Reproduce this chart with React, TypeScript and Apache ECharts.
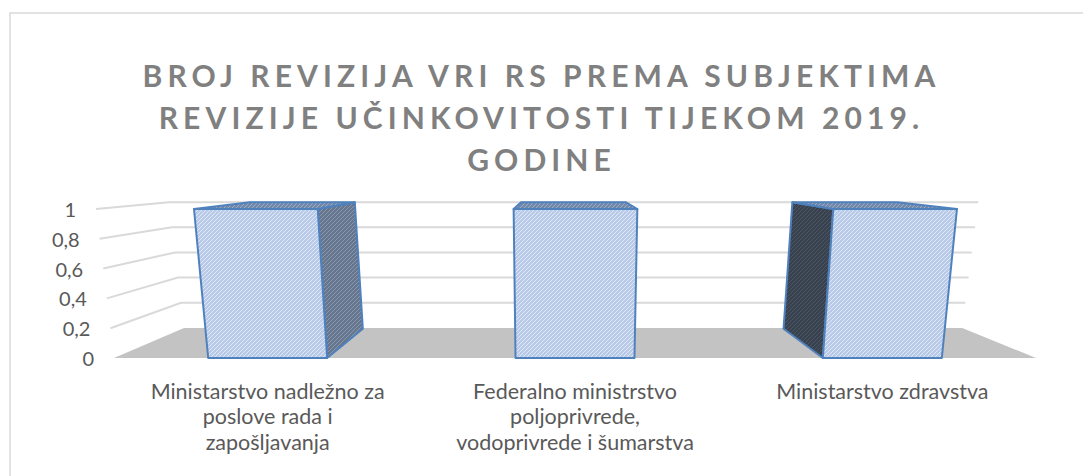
import React, { useEffect, useRef } from "react";
import * as echarts from "echarts";

// ---------- data ----------
const categories = [
  "Ministarstvo nadležno za\nposlove rada i\nzapošljavanja",
  "Federalno ministrstvo\npoljoprivrede,\nvodoprivrede i šumarstva",
  "Ministarstvo zdravstva",
];
const revisionCounts = [1, 1, 1];
const yTicks = [0, 0.2, 0.4, 0.6, 0.8, 1];
const yTickLabels = ["0", "0,2", "0,4", "0,6", "0,8", "1"];
const titleLines = [
  "BROJ REVIZIJA VRI RS PREMA SUBJEKTIMA",
  "REVIZIJE UČINKOVITOSTI TIJEKOM 2019.",
  "GODINE",
];

// ---------- perspective settings (style) ----------
const VX = 563; // vanishing point x
const VY = 165; // vanishing point y
const DEPTH_K = 0.844; // scale of the back plane
const TILT = 0.04; // widening of the top
const BAR_DEPTH = 0.97;
const BAR_RATIO = 0.387;

function proj(x: number, y: number, frac: number, d: number): number[] {
  const s = 1 + TILT * frac;
  const xf = VX + (x - VX) * s;
  const k = 1 - (1 - DEPTH_K) * d;
  return [VX + (xf - VX) * k, VY + (y - VY) * k];
}

function hatch(base: string, line: string) {
  const svg =
    "<svg xmlns='http://www.w3.org/2000/svg' width='4' height='4'>" +
    "<rect width='4' height='4' fill='" + base + "'/>" +
    "<path d='M0,4 L4,0 M-1,1 L1,-1 M3,5 L5,3' stroke='" + line + "' stroke-width='1'/>" +
    "</svg>";
  return {
    type: "pattern",
    image: "data:image/svg+xml;charset=utf-8," + encodeURIComponent(svg),
    imageWidth: 4,
    imageHeight: 4,
    repeat: "repeat",
  } as any;
}

const FRONT_FILL = hatch("#b8cae7", "#dfe8f6");
const RIGHT_FILL = hatch("#66768e", "#8797ad");
const LEFT_FILL = hatch("#38424f", "#4b5564");
const TOP_FILL = hatch("#7288aa", "#9cadc8");
const EDGE = "#4f81bd";

export default function App() {
  const ref = useRef<HTMLDivElement>(null);

  useEffect(() => {
    if (!ref.current) return;
    const chart = echarts.init(ref.current, undefined, { renderer: "svg" });

    const gridData = yTicks.map((v) => [0, v]);
    const barData = revisionCounts.map((v, i) => [i, v]);

    const option: any = {
      animation: false,
      backgroundColor: "#ffffff",
      title: {
        text: titleLines.join("\n"),
        left: "center",
        top: 49,
        textStyle: {
          fontFamily: "Lato",
          fontWeight: "bold",
          fontSize: 30,
          color: "#808080",
          lineHeight: 42,
        },
      },
      graphic: [
        {
          type: "rect",
          shape: { x: 10, y: 13, width: 1200, height: 600 },
          style: { fill: "none", stroke: "#d9d9d9", lineWidth: 1.5 },
          silent: true,
        },
      ],
      grid: { left: 114, right: 47, top: 209, bottom: 118 },
      xAxis: {
        type: "category",
        data: categories,
        axisLine: { show: false },
        axisTick: { show: false },
        splitLine: { show: false },
        axisLabel: {
          interval: 0,
          color: "#595959",
          fontFamily: "Lato",
          fontSize: 21.5,
          lineHeight: 25.5,
          margin: 20,
        },
      },
      yAxis: {
        type: "value",
        min: 0,
        max: 1,
        interval: 0.2,
        axisLine: { show: false },
        axisTick: { show: false },
        splitLine: { show: false },
        axisLabel: { show: false },
      },
      series: [
        {
          type: "custom",
          z: 1,
          silent: true,
          data: gridData,
          renderItem: (params: any, api: any) => {
            const v = api.value(1);
            const cs = params.coordSys;
            const y = api.coord([0, v])[1];
            const frac = (cs.y + cs.height - y) / cs.height;
            const x0 = cs.x;
            const x1 = cs.x + cs.width;
            const a = proj(x0, y, frac, 0);
            const b = proj(x0, y, frac, 1);
            const c = proj(x1, y, frac, 1);
            const children: any[] = [];
            if (v === 0) {
              const d = proj(x1, y, frac, 0);
              children.push({
                type: "polygon",
                shape: { points: [a, d, c, b] },
                style: { fill: "#c3c3c3", stroke: "none" },
              });
            } else {
              children.push({
                type: "polyline",
                shape: { points: [a, b, c] },
                style: { fill: "none", stroke: "#d9d9d9", lineWidth: 2 },
              });
            }
            children.push({
              type: "text",
              style: {
                text: yTickLabels[params.dataIndex],
                x: a[0] - 20,
                y: a[1],
                align: "right",
                verticalAlign: "middle",
                fill: "#595959",
                fontFamily: "Lato",
                fontSize: 20,
              },
            });
            return { type: "group", children };
          },
        },
        {
          type: "custom",
          z: 3,
          silent: true,
          data: barData,
          renderItem: (params: any, api: any) => {
            const i = api.value(0);
            const v = api.value(1);
            const cs = params.coordSys;
            const top = api.coord([i, v]);
            const base = api.coord([i, 0]);
            const band = api.size([1, 0])[0];
            const w = band * BAR_RATIO;
            const xl = top[0] - w / 2;
            const xr = top[0] + w / 2;
            const yT = top[1];
            const yB = base[1];
            const frac = (yB - yT) / cs.height;
            const fbl = proj(xl, yB, 0, 0);
            const fbr = proj(xr, yB, 0, 0);
            const ftl = proj(xl, yT, frac, 0);
            const ftr = proj(xr, yT, frac, 0);
            const bbl = proj(xl, yB, 0, BAR_DEPTH);
            const bbr = proj(xr, yB, 0, BAR_DEPTH);
            const btl = proj(xl, yT, frac, BAR_DEPTH);
            const btr = proj(xr, yT, frac, BAR_DEPTH);
            const edge = { stroke: EDGE, lineWidth: 2, lineJoin: "round" };
            const children: any[] = [];
            if (xr < VX) {
              children.push({
                type: "polygon",
                shape: { points: [fbr, ftr, btr, bbr] },
                style: { fill: RIGHT_FILL, ...edge },
              });
            }
            if (xl > VX) {
              children.push({
                type: "polygon",
                shape: { points: [fbl, ftl, btl, bbl] },
                style: { fill: LEFT_FILL, ...edge },
              });
            }
            children.push({
              type: "polygon",
              shape: { points: [ftl, ftr, btr, btl] },
              style: { fill: TOP_FILL, ...edge },
            });
            children.push({
              type: "polygon",
              shape: { points: [fbl, fbr, ftr, ftl] },
              style: { fill: FRONT_FILL, ...edge },
            });
            return { type: "group", children };
          },
        },
      ],
    };

    chart.setOption(option);

    const applySpacing = () => {
      if (!ref.current) return;
      ref.current.querySelectorAll("text").forEach((t) => {
        const s = (t.textContent || "").trim();
        if (titleLines.includes(s)) {
          (t as any).style.letterSpacing = "5.1px";
        }
      });
    };
    applySpacing();
    chart.on("finished", applySpacing);

    return () => {
      chart.dispose();
    };
  }, []);

  return (
    <div
      ref={ref}
      style={{ position: "fixed", left: 0, top: 0, width: 1083, height: 476 }}
    />
  );
}
